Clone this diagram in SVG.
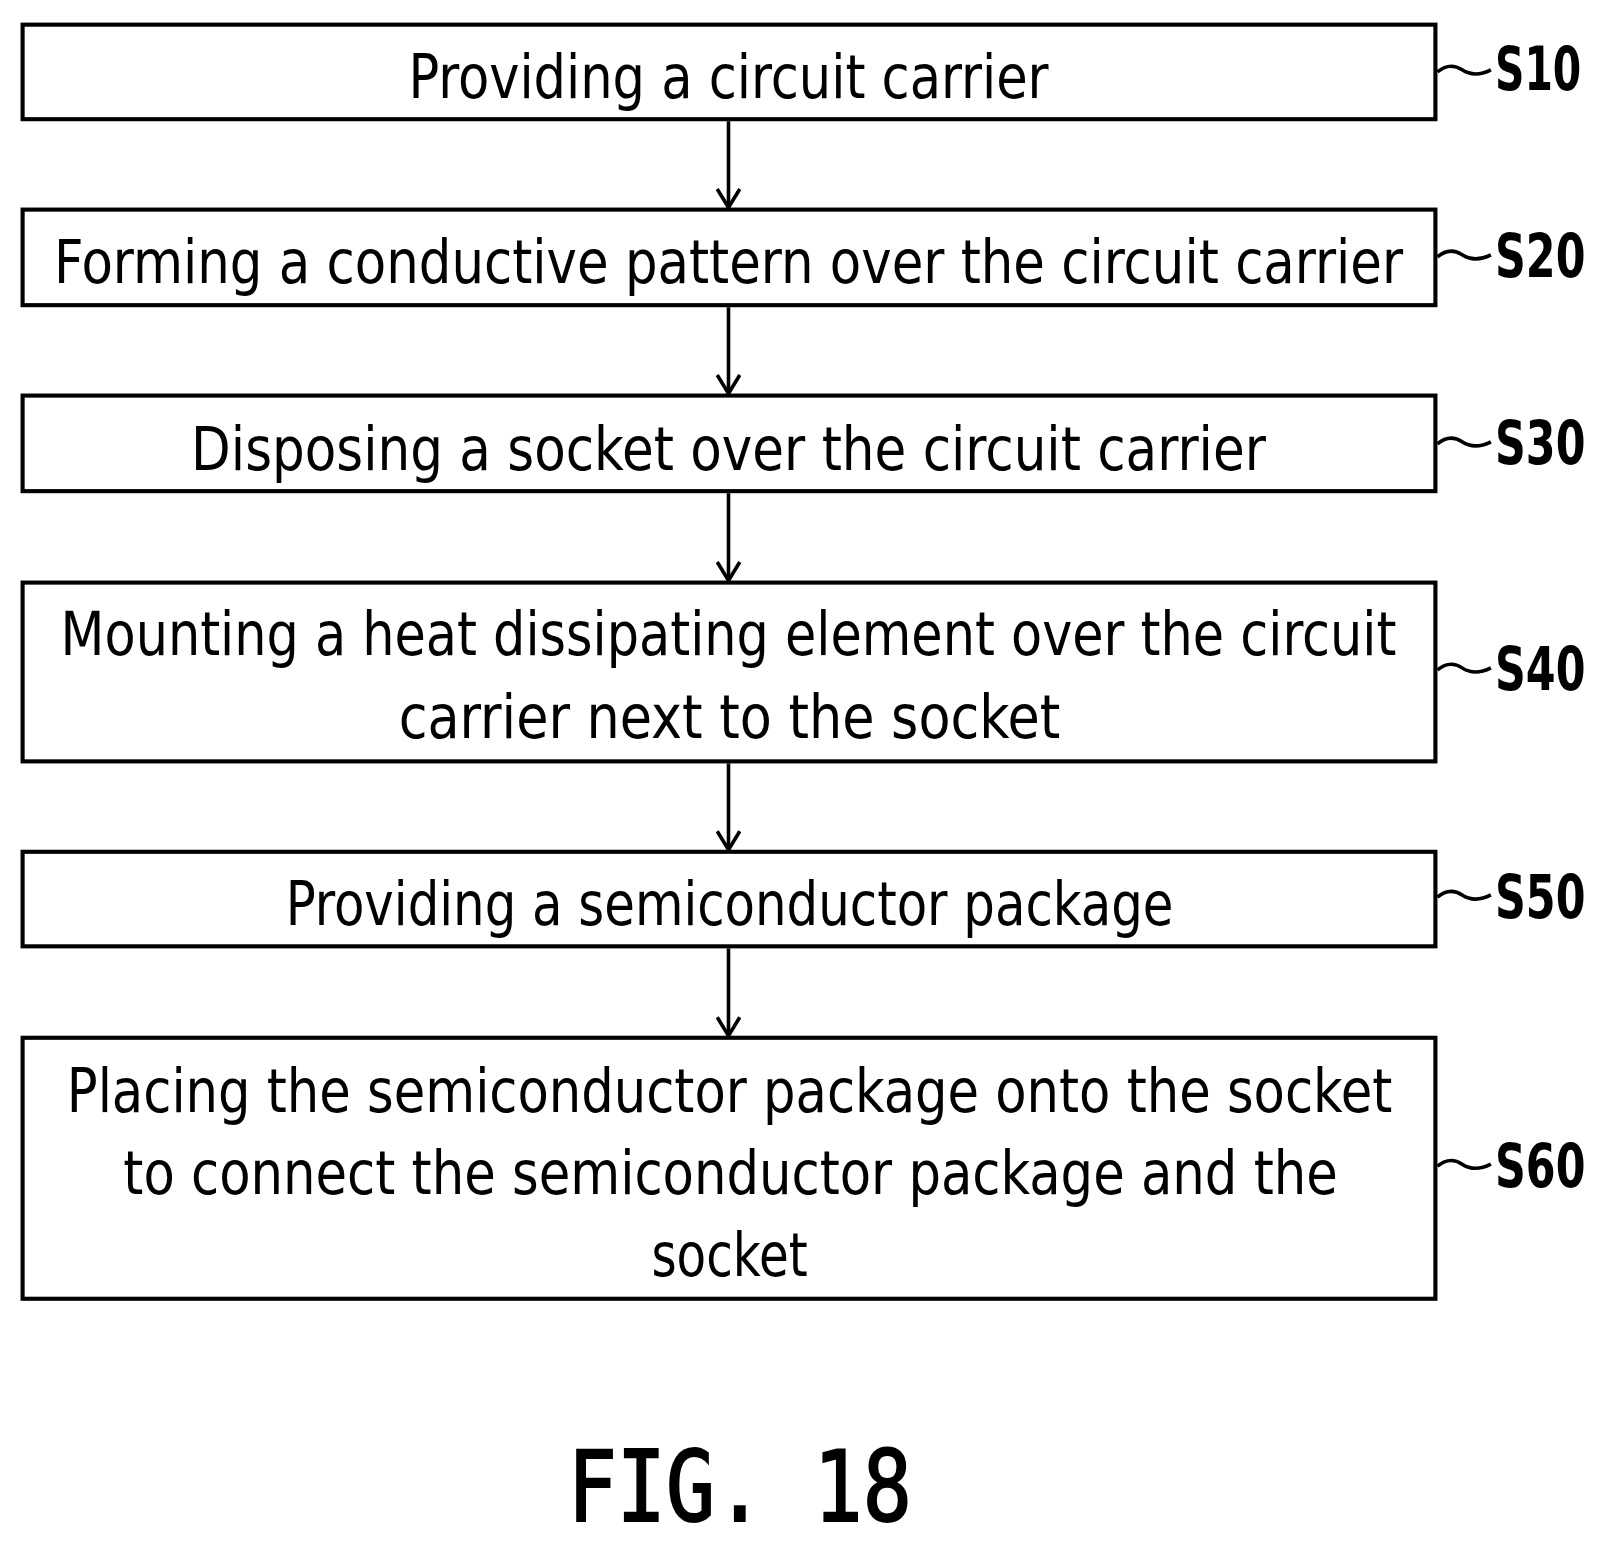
<svg xmlns="http://www.w3.org/2000/svg" width="1609" height="1544" viewBox="0 0 1609 1544">
<style>
.b{fill:#fff;stroke:#000;stroke-width:4}
.t{font-family:"DejaVu Sans Condensed","DejaVu Sans",sans-serif;font-size:58px;text-anchor:middle}
.l{font-family:"DejaVu Sans Condensed","DejaVu Sans",sans-serif;font-size:58px;font-weight:bold}
.c{fill:none;stroke:#000;stroke-width:3.5}
</style>
<defs><marker id="a" viewBox="0 0 24 24" refX="21" refY="12" markerWidth="24" markerHeight="24" markerUnits="userSpaceOnUse" orient="auto"><path d="M3 1L21 12L3 23" fill="none" stroke="#000" stroke-width="3.5"/></marker></defs>
<rect width="1609" height="1544" fill="#fff"/>
<g transform="scale(1.0275)">
<g id="connectors">
<path class="c" d="M709 118V202" marker-end="url(#a)"/>
<path class="c" d="M709 299V383" marker-end="url(#a)"/>
<path class="c" d="M709 480V565" marker-end="url(#a)"/>
<path class="c" d="M709 743V827" marker-end="url(#a)"/>
<path class="c" d="M709 923V1008" marker-end="url(#a)"/>
<path class="c" d="M1399 70q12 -10 24 -2t28 0"/>
<path class="c" d="M1399 250q12 -10 24 -2t28 0"/>
<path class="c" d="M1399 432q12 -10 24 -2t28 0"/>
<path class="c" d="M1399 652q12 -10 24 -2t28 0"/>
<path class="c" d="M1399 873q12 -10 24 -2t28 0"/>
<path class="c" d="M1399 1135q12 -10 24 -2t28 0"/>
</g>
<g id="S10"><rect class="b" x="22" y="24" width="1375" height="92"/><text class="t" x="709" y="95" textLength="623" lengthAdjust="spacingAndGlyphs">Providing a circuit carrier</text><text class="l" x="1455" y="88" textLength="84" lengthAdjust="spacingAndGlyphs">S10</text></g>
<g id="S20"><rect class="b" x="22" y="204" width="1375" height="93"/><text class="t" x="709" y="275" textLength="1313" lengthAdjust="spacingAndGlyphs">Forming a conductive pattern over the circuit carrier</text><text class="l" x="1455" y="270" textLength="88" lengthAdjust="spacingAndGlyphs">S20</text></g>
<g id="S30"><rect class="b" x="22" y="385" width="1375" height="93"/><text class="t" x="709" y="457" textLength="1046" lengthAdjust="spacingAndGlyphs">Disposing a socket over the circuit carrier</text><text class="l" x="1455" y="452" textLength="88" lengthAdjust="spacingAndGlyphs">S30</text></g>
<g id="S40"><rect class="b" x="22" y="567" width="1375" height="174"/><text class="t" x="709" y="637" textLength="1300" lengthAdjust="spacingAndGlyphs">Mounting a heat dissipating element over the circuit</text><text class="t" x="710" y="718" textLength="644" lengthAdjust="spacingAndGlyphs">carrier next to the socket</text><text class="l" x="1455" y="672" textLength="88" lengthAdjust="spacingAndGlyphs">S40</text></g>
<g id="S50"><rect class="b" x="22" y="829" width="1375" height="92"/><text class="t" x="710" y="900" textLength="864" lengthAdjust="spacingAndGlyphs">Providing a semiconductor package</text><text class="l" x="1455" y="893" textLength="88" lengthAdjust="spacingAndGlyphs">S50</text></g>
<g id="S60"><rect class="b" x="22" y="1010" width="1375" height="254"/><text class="t" x="710" y="1082" textLength="1290" lengthAdjust="spacingAndGlyphs">Placing the semiconductor package onto the socket</text><text class="t" x="711" y="1162" textLength="1182" lengthAdjust="spacingAndGlyphs">to connect the semiconductor package and the</text><text class="t" x="710" y="1242" textLength="152" lengthAdjust="spacingAndGlyphs">socket</text><text class="l" x="1455" y="1155" textLength="88" lengthAdjust="spacingAndGlyphs">S60</text></g>
<text x="720" y="1480" font-family="DejaVu Sans Mono,monospace" font-size="96" stroke="#000" stroke-width="2" text-anchor="middle" textLength="335" lengthAdjust="spacingAndGlyphs">FIG. 18</text>
</g>
</svg>
